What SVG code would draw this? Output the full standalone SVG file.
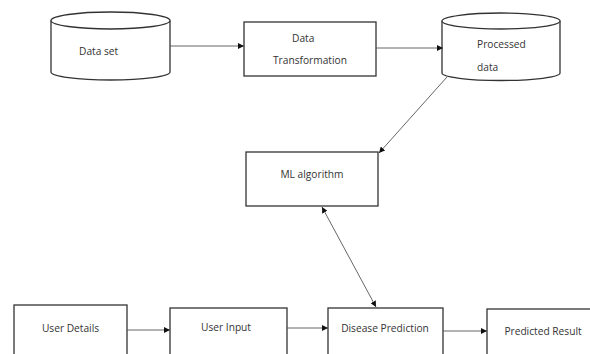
<svg xmlns="http://www.w3.org/2000/svg" width="590" height="354" viewBox="0 0 590 354">
<defs>
<style>
.shape{fill:#fff;stroke:#333;stroke-width:1.3}
.line{fill:none;stroke:#555;stroke-width:0.9}
.t{font-family:"Open Sans","Liberation Sans",sans-serif;font-size:10.2px;fill:#333}
</style>
<marker id="ah" viewBox="0 0 10 10" refX="10" refY="5" markerWidth="6" markerHeight="6" markerUnits="userSpaceOnUse" orient="auto-start-reverse">
<path d="M0,0 L10,5 L0,10 z" fill="#111"/>
</marker>
</defs>
<rect width="590" height="354" fill="#fff"/>
<g id="dataset">
<path class="shape" d="M51,20.5 L51,72 A59.5,8 0 0 0 170,72 L170,20.5"/>
<ellipse class="shape" cx="110.5" cy="20.5" rx="59.5" ry="8.5"/>
<text class="t" x="79" y="55">Data set</text>
</g>
<g id="transform">
<rect class="shape" x="244" y="22" width="132" height="54"/>
<text class="t" x="292" y="42">Data</text>
<text class="t" x="273" y="64">Transformation</text>
</g>
<g id="processed">
<path class="shape" d="M442,21 L442,73 A59,7.5 0 0 0 560,73 L560,21"/>
<ellipse class="shape" cx="501" cy="21" rx="59" ry="8"/>
<text class="t" x="477" y="48">Processed</text>
<text class="t" x="477" y="71">data</text>
</g>
<g id="ml">
<rect class="shape" x="246" y="152" width="132" height="54"/>
<text class="t" x="312" y="178" text-anchor="middle">ML algorithm</text>
</g>
<g id="userdetails">
<rect class="shape" x="14" y="305" width="113" height="52"/>
<text class="t" x="70.5" y="332" text-anchor="middle">User Details</text>
</g>
<g id="userinput">
<rect class="shape" x="170" y="308" width="117" height="50"/>
<text class="t" x="226" y="331" text-anchor="middle">User Input</text>
</g>
<g id="disease">
<rect class="shape" x="328" y="308" width="115" height="50"/>
<text class="t" x="385" y="332" text-anchor="middle">Disease Prediction</text>
</g>
<g id="result">
<rect class="shape" x="487" y="309" width="110" height="50"/>
<text class="t" x="543" y="335" text-anchor="middle">Predicted Result</text>
</g>
<g id="connectors">
<line class="line" x1="170" y1="46" x2="244" y2="46" marker-end="url(#ah)"/>
<line class="line" x1="376" y1="48" x2="443" y2="48" marker-end="url(#ah)"/>
<line class="line" x1="447" y1="77" x2="379" y2="153" marker-end="url(#ah)"/>
<line class="line" x1="322" y1="207" x2="376" y2="307" marker-start="url(#ah)" marker-end="url(#ah)"/>
<line class="line" x1="127" y1="330" x2="170" y2="330" marker-end="url(#ah)"/>
<line class="line" x1="287" y1="328" x2="328" y2="328" marker-end="url(#ah)"/>
<line class="line" x1="443" y1="331" x2="487" y2="331" marker-end="url(#ah)"/>
</g>
</svg>
